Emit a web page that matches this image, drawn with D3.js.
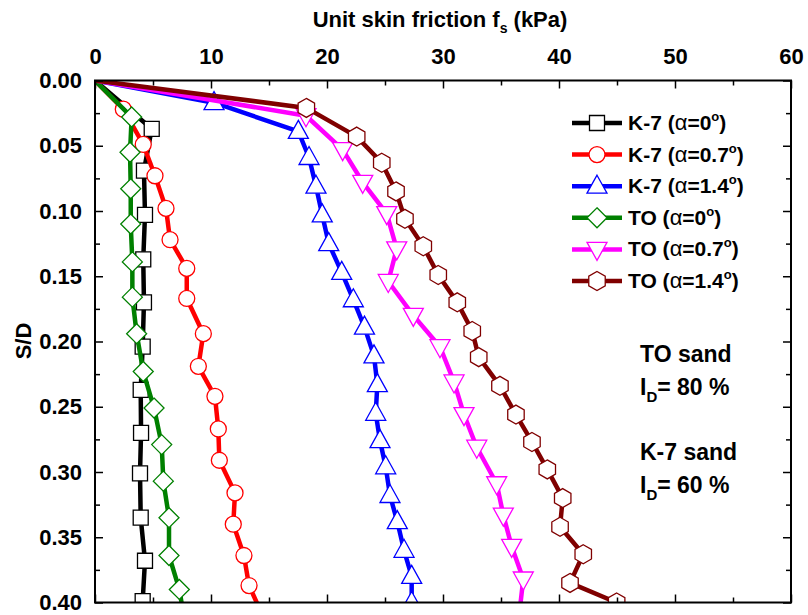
<!DOCTYPE html>
<html>
<head>
<meta charset="utf-8">
<script src="https://d3js.org/d3.v7.min.js"></script>
<style>
  body { margin: 0; background: #fff; }
  text { font-family: Arial, "Liberation Sans", sans-serif; font-weight: bold; fill: #000; }
</style>
</head>
<body>
<svg id="chart" width="808" height="615"></svg>
<script>
// tick values
const xTicks = [0, 10, 20, 30, 40, 50, 60];
const xMinor = [5, 15, 25, 35, 45, 55];
const yTicks = [0, 0.05, 0.10, 0.15, 0.20, 0.25, 0.30, 0.35, 0.40];
const yMinor = [0.025, 0.075, 0.125, 0.175, 0.225, 0.275, 0.325, 0.375];

// K-7 sand, alpha = 0
const k7a0_fs = [0, 4.89, 4.22, 4.31, 4.16, 4.22, 4.11, 3.94, 3.97, 3.88, 3.94, 4.31, 4.11];
const k7a0_sd = [0, 0.037, 0.069, 0.103, 0.137, 0.170, 0.204, 0.237, 0.270, 0.301, 0.335, 0.368, 0.399];
// K-7 sand, alpha = 0.7
const k7a07_fs = [0, 2.44, 4.16, 5.17, 6.12, 6.47, 7.91, 7.91, 9.34, 8.91, 10.34, 10.63, 10.72, 12.07, 11.92, 12.84, 13.28, 14.5];
const k7a07_sd = [0, 0.022, 0.049, 0.073, 0.098, 0.122, 0.144, 0.167, 0.194, 0.219, 0.242, 0.267, 0.291, 0.316, 0.340, 0.364, 0.387, 0.411];
// K-7 sand, alpha = 1.4
const k7a14_fs = [0, 10.26, 17.53, 18.45, 19.05, 19.59, 20.15, 21.27, 22.27, 23.23, 24.05, 24.34, 24.20, 24.57, 25.06, 25.43, 26.06, 26.64, 27.30, 27.30];
const k7a14_sd = [0, 0.017, 0.039, 0.059, 0.081, 0.103, 0.125, 0.147, 0.168, 0.189, 0.211, 0.233, 0.255, 0.276, 0.296, 0.318, 0.338, 0.360, 0.380, 0.400];
// TO sand, alpha = 0
const toa0_fs = [0, 3.16, 3.02, 3.08, 3.08, 3.22, 3.22, 3.59, 4.16, 5.09, 5.75, 5.89, 6.38, 6.38, 7.27, 7.8];
const toa0_sd = [0, 0.028, 0.055, 0.083, 0.110, 0.139, 0.166, 0.194, 0.223, 0.251, 0.279, 0.307, 0.335, 0.364, 0.390, 0.418];
// TO sand, alpha = 0.7
const toa07_fs = [0, 18.19, 21.35, 23.08, 25.15, 26.01, 25.28, 27.44, 29.74, 30.95, 31.81, 32.91, 34.63, 35.20, 35.92, 36.92, 36.6];
const toa07_sd = [0, 0.027, 0.053, 0.078, 0.102, 0.129, 0.154, 0.180, 0.204, 0.231, 0.256, 0.281, 0.309, 0.333, 0.357, 0.382, 0.407];
// TO sand, alpha = 1.4
const toa14_fs = [0, 18.22, 22.56, 24.72, 25.95, 26.72, 28.30, 29.59, 31.23, 32.52, 33.08, 34.91, 36.29, 37.67, 38.99, 40.32, 40.09, 42.09, 40.95, 44.97];
const toa14_sd = [0, 0.021, 0.043, 0.063, 0.085, 0.106, 0.127, 0.149, 0.170, 0.192, 0.212, 0.234, 0.256, 0.277, 0.298, 0.320, 0.342, 0.363, 0.385, 0.400];

const series = [
  { sand: "K-7", angle: "0", color: "#000000", marker: "square", fs: k7a0_fs, sd: k7a0_sd },
  { sand: "K-7", angle: "0.7", color: "#ff0000", marker: "circle", fs: k7a07_fs, sd: k7a07_sd },
  { sand: "K-7", angle: "1.4", color: "#0000ff", marker: "triUp", fs: k7a14_fs, sd: k7a14_sd },
  { sand: "TO", angle: "0", color: "#008000", marker: "diamond", fs: toa0_fs, sd: toa0_sd },
  { sand: "TO", angle: "0.7", color: "#ff00ff", marker: "triDown", fs: toa07_fs, sd: toa07_sd },
  { sand: "TO", angle: "1.4", color: "#800000", marker: "hexagon", fs: toa14_fs, sd: toa14_sd }
];

const svg = d3.select("#chart");
const pLeft = 95, pRight = 791, pTop = 80.5, pBottom = 602.5;
const x = d3.scaleLinear().domain([0, 60]).range([pLeft, pRight]);
const y = d3.scaleLinear().domain([0, 0.4]).range([pTop, pBottom]);

// marker shapes
function markerPath(type) {
  if (type === "square") return "M-7.5,-7.5H7.5V7.5H-7.5Z";
  if (type === "circle") return "M-8,0A8,8 0 1,0 8,0A8,8 0 1,0 -8,0Z";
  if (type === "triUp") return "M0,-11L10,7L-10,7Z";
  if (type === "triDown") return "M0,11L10,-7L-10,-7Z";
  if (type === "diamond") return "M0,-10L10,0L0,10L-10,0Z";
  if (type === "hexagon") {
    const pts = d3.range(6).map(i => {
      const a = Math.PI / 3 * i - Math.PI / 2;
      return [9.5 * Math.cos(a), 9.5 * Math.sin(a)];
    });
    return "M" + pts.map(p => p.join(",")).join("L") + "Z";
  }
}

svg.append("clipPath").attr("id", "plotClip")
  .append("rect").attr("x", pLeft).attr("y", pTop)
  .attr("width", pRight - pLeft).attr("height", pBottom - pTop);

const line = d3.line().x(d => x(d[0])).y(d => y(d[1]));

series.forEach(s => {
  const pts = s.fs.map((v, i) => [v, s.sd[i]]);
  const g = svg.append("g").attr("clip-path", "url(#plotClip)");
  g.append("path")
    .attr("d", line(pts))
    .attr("fill", "none")
    .attr("stroke", s.color)
    .attr("stroke-width", 4.5)
    .attr("stroke-linejoin", "round");
  g.selectAll(".m")
    .data(pts.filter(p => p[1] > 0))
    .enter().append("path")
    .attr("transform", d => `translate(${x(d[0])},${y(d[1])})`)
    .attr("d", markerPath(s.marker))
    .attr("fill", "#fff")
    .attr("stroke", s.color)
    .attr("stroke-width", 1.3);
});

// axes
svg.append("g").attr("transform", `translate(0,${pTop})`)
  .call(d3.axisTop(x).tickValues(xTicks).tickSize(-8).tickSizeOuter(0).tickPadding(17).tickFormat(d3.format("d")));
svg.append("g").attr("transform", `translate(0,${pTop})`)
  .call(d3.axisTop(x).tickValues(xMinor).tickSize(-5).tickSizeOuter(0).tickFormat(""));
svg.append("g").attr("transform", `translate(0,${pBottom})`)
  .call(d3.axisBottom(x).tickValues(xTicks).tickSize(-8).tickSizeOuter(0).tickFormat(""));
svg.append("g").attr("transform", `translate(0,${pBottom})`)
  .call(d3.axisBottom(x).tickValues(xMinor).tickSize(-5).tickSizeOuter(0).tickFormat(""));
svg.append("g").attr("transform", `translate(${pLeft},0)`)
  .call(d3.axisLeft(y).tickValues(yTicks).tickSize(-8).tickSizeOuter(0).tickPadding(13).tickFormat(d3.format(".2f")));
svg.append("g").attr("transform", `translate(${pLeft},0)`)
  .call(d3.axisLeft(y).tickValues(yMinor).tickSize(-5).tickSizeOuter(0).tickFormat(""));
svg.append("g").attr("transform", `translate(${pRight},0)`)
  .call(d3.axisRight(y).tickValues(yTicks).tickSize(-8).tickSizeOuter(0).tickFormat(""));
svg.append("g").attr("transform", `translate(${pRight},0)`)
  .call(d3.axisRight(y).tickValues(yMinor).tickSize(-5).tickSizeOuter(0).tickFormat(""));

svg.selectAll(".domain").remove();
svg.selectAll(".tick line").attr("stroke", "#000").attr("stroke-width", 1.5);
svg.selectAll(".tick text").attr("font-size", 22).attr("font-family", "Arial, 'Liberation Sans', sans-serif").attr("font-weight", "bold").attr("fill", "#000");

svg.append("rect")
  .attr("x", pLeft).attr("y", pTop)
  .attr("width", pRight - pLeft).attr("height", pBottom - pTop)
  .attr("fill", "none").attr("stroke", "#000").attr("stroke-width", 2);

// axis titles
const xt = svg.append("text").attr("x", 440).attr("y", 27).attr("text-anchor", "middle").attr("font-size", 22);
xt.append("tspan").text("Unit skin friction f");
xt.append("tspan").attr("font-size", 14).attr("dy", 6).text("s");
xt.append("tspan").attr("dy", -6).text(" (kPa)");

svg.append("text")
  .attr("transform", "translate(31,341) rotate(-90)")
  .attr("text-anchor", "middle").attr("font-size", 22)
  .text("S/D");

// legend
const legend = svg.append("g");
series.forEach((s, i) => {
  const ly = 123 + i * 31.6;
  legend.append("line")
    .attr("x1", 572).attr("x2", 622).attr("y1", ly).attr("y2", ly)
    .attr("stroke", s.color).attr("stroke-width", 4.5);
  legend.append("path")
    .attr("transform", `translate(597,${ly})`)
    .attr("d", markerPath(s.marker))
    .attr("fill", "#fff").attr("stroke", s.color).attr("stroke-width", 1.3);
  const t = legend.append("text").attr("x", 628).attr("y", ly + 7).attr("font-size", 21);
  t.append("tspan").text(s.sand + " (");
  t.append("tspan").attr("font-weight", "normal").attr("font-size", 22).text("α");
  t.append("tspan").text("=" + s.angle);
  t.append("tspan").attr("font-size", 13).attr("dy", -9).text("o");
  t.append("tspan").attr("dy", 9).text(")");
});

// annotations
function idText(yb, val) {
  const t = svg.append("text").attr("x", 640).attr("y", yb).attr("font-size", 23);
  t.append("tspan").text("I");
  t.append("tspan").attr("font-size", 15).attr("dy", 7).text("D");
  t.append("tspan").attr("dy", -7).text("= " + val + " %");
}
svg.append("text").attr("x", 640).attr("y", 362).attr("font-size", 23).text("TO sand");
idText(395, 80);
svg.append("text").attr("x", 640).attr("y", 460).attr("font-size", 23).text("K-7 sand");
idText(493, 60);
</script>
</body>
</html>
